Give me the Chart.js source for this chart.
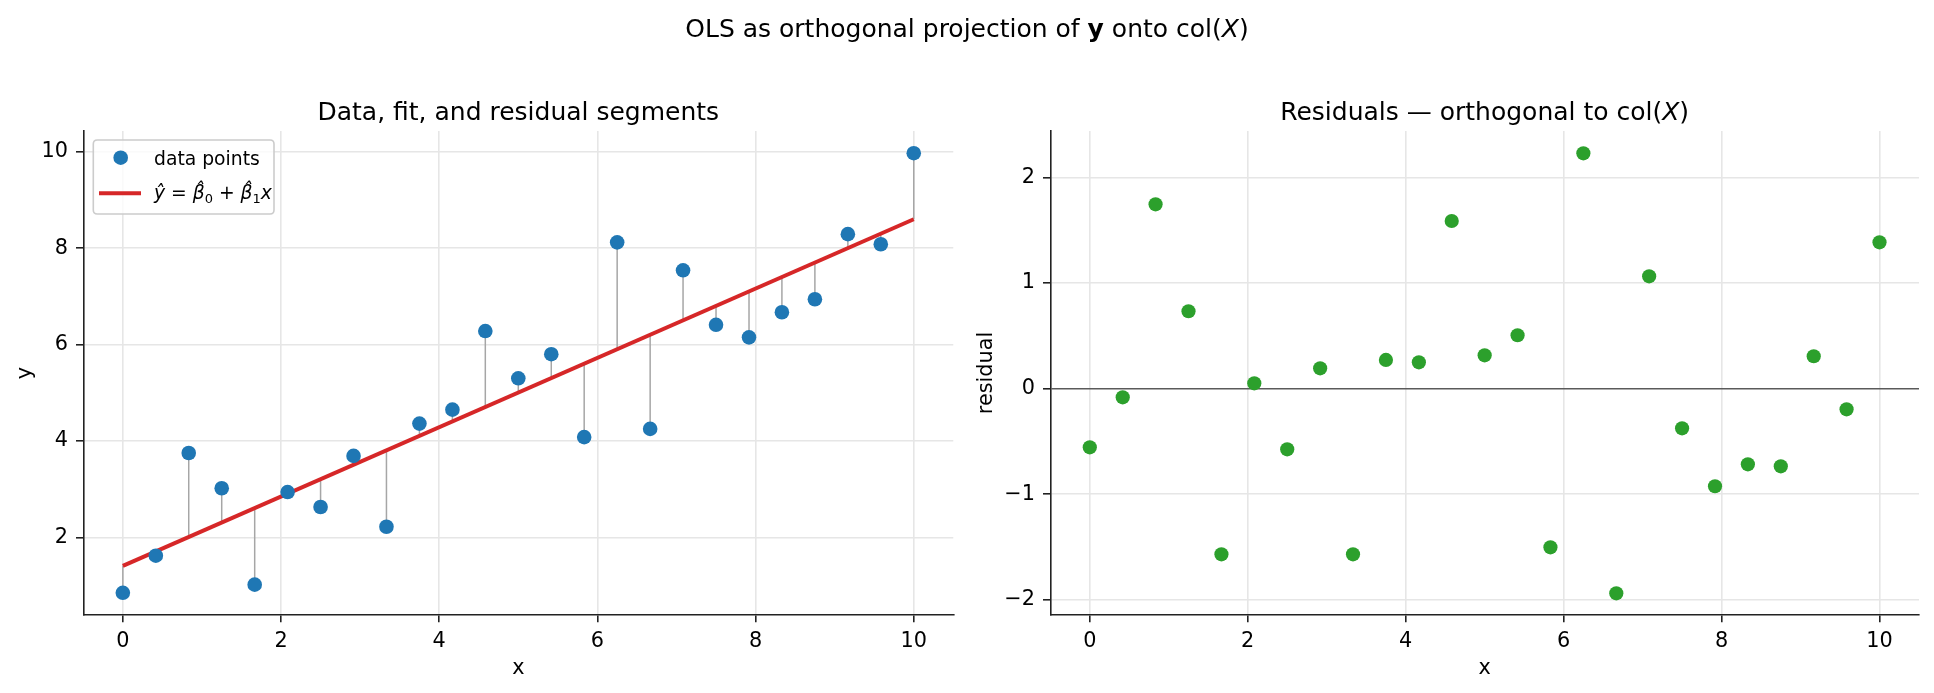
<!DOCTYPE html>
<html><head><meta charset="utf-8">
<script src="https://cdn.jsdelivr.net/npm/chart.js@4/dist/chart.umd.min.js"></script>
<style>
html,body{margin:0;padding:0;background:#fff;}
body{width:1934px;height:693px;position:relative;overflow:hidden;font-family:'DejaVu Sans',sans-serif;}
#sup{position:absolute;left:0;width:1934px;top:16px;text-align:center;font-size:25px;line-height:25px;color:#000;z-index:5;}
#sup b{font-weight:bold;}
#c1{position:absolute;left:0;top:0;}
#c2{position:absolute;left:967px;top:0;}
</style></head><body>
<div id="sup">OLS as orthogonal projection of <b>y</b> onto col(<i>X</i>)</div>
<canvas id="c1" width="967" height="693"></canvas>
<canvas id="c2" width="967" height="693"></canvas>
<script>
// ---- data ----
const xValues = [0, 0.417, 0.833, 1.25, 1.667, 2.083, 2.5, 2.917, 3.333, 3.75, 4.167, 4.583, 5.0, 5.417, 5.833, 6.25, 6.667, 7.083, 7.5, 7.917, 8.333, 8.75, 9.167, 9.583, 10];
const yValues = [0.85, 1.62, 3.75, 3.02, 1.02, 2.94, 2.63, 3.69, 2.22, 4.36, 4.65, 6.28, 5.30, 5.80, 4.08, 8.12, 4.25, 7.54, 6.41, 6.15, 6.67, 6.94, 8.29, 8.08, 9.97];
const residuals = [-0.555, -0.082, 1.746, 0.733, -1.568, 0.051, -0.574, 0.193, -1.568, 0.272, 0.250, 1.588, 0.316, 0.506, -1.502, 2.229, -1.938, 1.064, -0.375, -0.924, -0.716, -0.735, 0.307, -0.195, 1.386];
const fitX = [0, 10];
const fitY = [1.41, 8.60];
const xTicks = [0, 2, 4, 6, 8, 10];
const yTicksLeft = [2, 4, 6, 8, 10];
const yTicksRight = [-2, -1, 0, 1, 2];
const xLimits = [-0.5, 10.5];
const yLimitsLeft = [0.39, 10.43];
const yLimitsRight = [-2.143, 2.44];

const FONT = "'DejaVu Sans', sans-serif";
Chart.defaults.font.family = FONT;
const fmt = v => (v < 0 ? '\u2212' + Math.abs(v) : String(v));
const TICK_PX = 20.8;

function fitAt(x) {
  return fitY[0] + (fitY[1] - fitY[0]) * (x - fitX[0]) / (fitX[1] - fitX[0]);
}

function xScale() {
  return {
    type: 'linear', position: 'bottom', min: xLimits[0], max: xLimits[1],
    afterBuildTicks: s => { s.ticks = xTicks.map(v => ({ value: v })); },
    afterFit: s => { s.height = 78; },
    grid: { color: '#e6e6e6', lineWidth: 1.6, drawTicks: true, tickLength: 7.3, tickColor: '#222', tickWidth: 1.6 },
    border: { display: true, color: '#222', width: 1.6 },
    ticks: { font: { size: TICK_PX }, color: '#000', padding: 7, maxRotation: 0, autoSkip: false, callback: v => fmt(v) },
    title: { display: true, text: 'x', font: { size: TICK_PX }, color: '#000', padding: { top: 0, bottom: 12 } }
  };
}
function yScale(lim, ticks, label, titlePad, zeroLine) {
  return {
    type: 'linear', position: 'left', min: lim[0], max: lim[1],
    afterBuildTicks: s => { s.ticks = ticks.map(v => ({ value: v })); },
    afterFit: s => { s.width = 83.3; },
    grid: {
      color: c => (zeroLine && c.tick && c.tick.value === 0) ? '#5a5a5a' : '#e6e6e6',
      lineWidth: 1.6, drawTicks: true, tickLength: 7.3, tickColor: '#222', tickWidth: 1.6
    },
    border: { display: true, color: '#222', width: 1.6 },
    ticks: { font: { size: TICK_PX }, color: '#000', padding: 8, autoSkip: false, callback: v => fmt(v) },
    title: { display: true, text: label, font: { size: TICK_PX }, color: '#000', padding: { top: titlePad, bottom: 0 } }
  };
}

function drawRich(ctx, segs, x, y, align) {
  let total = 0;
  segs.forEach(s => { ctx.font = s.font; s.w = ctx.measureText(s.t).width; total += s.w; });
  let cx = align === 'center' ? x - total / 2 : x;
  segs.forEach(s => { ctx.font = s.font; ctx.fillText(s.t, cx, y + (s.dy || 0)); cx += s.w; });
}

const TITLE_F = "25px " + FONT, TITLE_FI = "italic 25px " + FONT;
function titlePlugin(segs) {
  return {
    id: 'richTitle',
    afterDraw(chart) {
      const { ctx, chartArea } = chart;
      ctx.save();
      ctx.fillStyle = '#000'; ctx.textBaseline = 'alphabetic'; ctx.textAlign = 'left';
      drawRich(ctx, segs, (chartArea.left + chartArea.right) / 2, chartArea.top - 11, 'center');
      ctx.restore();
    }
  };
}

const legendPlugin = {
  id: 'mplLegend',
  afterDraw(chart) {
    const { ctx, chartArea } = chart;
    const L = chartArea.left + 10, T = chartArea.top + 9, W = 180.7, H = 74, R = 4;
    ctx.save();
    ctx.beginPath();
    ctx.moveTo(L + R, T); ctx.lineTo(L + W - R, T); ctx.quadraticCurveTo(L + W, T, L + W, T + R);
    ctx.lineTo(L + W, T + H - R); ctx.quadraticCurveTo(L + W, T + H, L + W - R, T + H);
    ctx.lineTo(L + R, T + H); ctx.quadraticCurveTo(L, T + H, L, T + H - R);
    ctx.lineTo(L, T + R); ctx.quadraticCurveTo(L, T, L + R, T); ctx.closePath();
    ctx.fillStyle = 'rgba(255,255,255,0.8)'; ctx.fill();
    ctx.strokeStyle = '#cccccc'; ctx.lineWidth = 1.6; ctx.stroke();
    const ds = chart.data.datasets;
    // entry 1: marker
    ctx.beginPath(); ctx.arc(L + 27.4, T + 17.7, 7.3, 0, Math.PI * 2);
    ctx.fillStyle = ds[0].backgroundColor; ctx.fill();
    ctx.fillStyle = '#000'; ctx.textBaseline = 'alphabetic'; ctx.textAlign = 'left';
    ctx.font = "18.75px " + FONT;
    ctx.fillText(ds[0].label, L + 60.7, T + 24.5);
    // entry 2: line
    ctx.beginPath(); ctx.moveTo(L + 5.7, T + 53.3); ctx.lineTo(L + 47.7, T + 53.3);
    ctx.strokeStyle = ds[1].borderColor; ctx.lineWidth = 4; ctx.lineCap = 'butt'; ctx.stroke();
    const fn = "18.75px " + FONT, fi = "italic 18.75px " + FONT, fs = "13px " + FONT;
    drawRich(ctx, [
      { t: 'y\u0302', font: fi }, { t: ' = ', font: fn },
      { t: '\u03B2\u0302', font: fi }, { t: '0', font: fs, dy: 4 }, { t: ' + ', font: fn },
      { t: '\u03B2\u0302', font: fi }, { t: '1', font: fs, dy: 4 }, { t: 'x', font: fi }
    ], L + 60.7, T + 59, 'left');
    ctx.restore();
  }
};

const baseOpts = {
  responsive: false, animation: false, devicePixelRatio: 1, events: [],
  plugins: { legend: { display: false }, tooltip: { enabled: false }, title: { display: false } }
};

// ---- left chart ----
const segDatasets = xValues.map((x, i) => ({
  label: 'seg' + i, showLine: true,
  data: [{ x: x, y: yValues[i] }, { x: x, y: fitAt(x) }],
  borderColor: '#a6a6a6', borderWidth: 1.5, pointRadius: 0, order: 2
}));
new Chart(document.getElementById('c1'), {
  type: 'scatter',
  data: {
    datasets: [
      { label: 'data points', data: xValues.map((x, i) => ({ x: x, y: yValues[i] })),
        backgroundColor: '#1f77b4', pointBackgroundColor: '#1f77b4', borderWidth: 0, pointBorderWidth: 0,
        pointRadius: 7.3, order: 0 },
      { label: 'fit', showLine: true, data: fitX.map((x, i) => ({ x: x, y: fitY[i] })),
        borderColor: '#d62728', borderWidth: 4, pointRadius: 0, order: 1 },
      ...segDatasets
    ]
  },
  options: Object.assign({}, baseOpts, {
    layout: { padding: { top: 131, right: 13.7, bottom: 0, left: 0 } },
    scales: { x: xScale(), y: yScale(yLimitsLeft, yTicksLeft, 'y', 12.9, false) }
  }),
  plugins: [titlePlugin([{ t: 'Data, fit, and residual segments', font: TITLE_F }]), legendPlugin]
});

// ---- right chart ----
new Chart(document.getElementById('c2'), {
  type: 'scatter',
  data: {
    datasets: [
      { label: 'residuals', data: xValues.map((x, i) => ({ x: x, y: residuals[i] })),
        backgroundColor: '#2ca02c', pointBackgroundColor: '#2ca02c', borderWidth: 0, pointBorderWidth: 0,
        pointRadius: 7.1 }
    ]
  },
  options: Object.assign({}, baseOpts, {
    layout: { padding: { top: 131, right: 15, bottom: 0, left: 0 } },
    scales: { x: xScale(), y: yScale(yLimitsRight, yTicksRight, 'residual', 7.2, true) }
  }),
  plugins: [titlePlugin([
    { t: 'Residuals \u2014 orthogonal to col(', font: TITLE_F },
    { t: 'X', font: TITLE_FI }, { t: ')', font: TITLE_F }
  ])]
});
</script>
</body></html>
